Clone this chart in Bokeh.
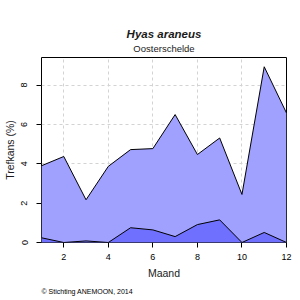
from bokeh.plotting import figure
from bokeh.models import Range1d, Title, FixedTicker
from bokeh.embed import file_html
from bokeh.resources import INLINE

months = [1, 2, 3, 4, 5, 6, 7, 8, 9, 10, 11, 12]
totaal = [3.9, 4.37, 2.17, 3.87, 4.72, 4.77, 6.5, 4.47, 5.31, 2.44, 8.93, 6.58]
onder = [0.24, 0.0, 0.08, 0.0, 0.75, 0.64, 0.3, 0.91, 1.15, 0.0, 0.51, 0.0]
x_ticks = [2, 4, 6, 8, 10, 12]
y_ticks = [0, 2, 4, 6, 8]

FONT = "Liberation Sans"

p = figure(width=300, height=300, output_backend="svg", toolbar_location=None,
           x_range=Range1d(1, 12), y_range=Range1d(0, 9.4),
           min_border_left=36, min_border_right=14, min_border_top=57, min_border_bottom=58)
p.background_fill_color = "white"
p.border_fill_color = "white"
p.outline_line_color = "black"
p.outline_line_width = 1
p.title.visible = False

p.varea(x=months, y1=0, y2=totaal, fill_color="#a0a0ff")
p.line(x=months, y=totaal, line_color="black", line_width=1)
p.varea(x=months, y1=0, y2=onder, fill_color="#7070ff")
p.line(x=months, y=onder, line_color="black", line_width=1)

for ax in (p.xaxis[0], p.yaxis[0]):
    ax.axis_line_color = None
    ax.major_tick_line_color = "black"
    ax.major_tick_out = 5
    ax.major_tick_in = 0
    ax.minor_tick_line_color = None
    ax.major_label_text_font = FONT
    ax.major_label_text_font_size = "9px"
    ax.major_label_text_color = "black"
    ax.axis_label_text_font = FONT
    ax.axis_label_text_font_size = "10.5px"
    ax.axis_label_text_font_style = "normal"
    ax.axis_label_text_color = "#1a1a1a"

p.xaxis[0].ticker = FixedTicker(ticks=x_ticks)
p.yaxis[0].ticker = FixedTicker(ticks=y_ticks)
p.xaxis[0].axis_label = "Maand"
p.yaxis[0].axis_label = "Trefkans (%)"
p.yaxis[0].major_label_orientation = "vertical"
p.xaxis[0].major_label_standoff = 6
p.yaxis[0].major_label_standoff = 9
p.xaxis[0].axis_label_standoff = 4
p.yaxis[0].axis_label_standoff = 3

p.xgrid.ticker = FixedTicker(ticks=[2, 4, 6, 8, 10])
p.ygrid.ticker = FixedTicker(ticks=[2, 4, 6, 8])
for g in (p.xgrid[0], p.ygrid[0]):
    g.grid_line_color = "#d3d3d3"
    g.grid_line_dash = "3 3"
    g.grid_line_width = 1

p.add_layout(Title(text="Oosterschelde", align="center", text_font=FONT,
                   text_font_size="9.5px", text_font_style="normal",
                   text_color="#1a1a1a", standoff=7), "above")
p.add_layout(Title(text="Hyas araneus", align="center", text_font=FONT,
                   text_font_size="11.5px", text_font_style="bold italic",
                   text_color="#1a1a1a", standoff=-4), "above")

p.add_layout(Title(text="© Stichting ANEMOON, 2014", align="left", text_font=FONT,
                   text_font_size="7px", text_font_style="normal",
                   text_color="black", standoff=8), "below")

open("out.html", "w").write(file_html(p, INLINE))
